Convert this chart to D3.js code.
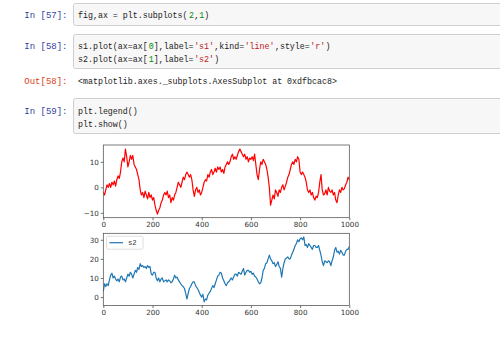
<!DOCTYPE html>
<html>
<head>
<meta charset="utf-8">
<script src="https://cdn.jsdelivr.net/npm/d3@7"></script>
<style>
  body { margin: 0; background: #fff; }
  text { font-family: "Liberation Mono", "DejaVu Sans Mono", monospace; }
  .tick text { font-family: "DejaVu Sans", sans-serif; }
</style>
</head>
<body>
<svg id="nb" width="500" height="337"></svg>
<script>
// series values, one every 5 steps of the index (0..1000)
const STEP = 5;
const s1 = [
  -2, -3, -1, 1, 0, 1.5, 0, 2, 1, 2.5, 0.5, 3, 4.5, 3.5, 6, 10, 11.5, 10, 15, 12,
  8, 10, 12.5, 11, 12.5, 9, 8, 7, 5, 3, -1, -3, -2, -4, -1.5, -3, -4.5, -2, -4, -3,
  -5, -4, -7, -9, -10.5, -9, -8, -6, -5, -3, -2, -3, -1.5, -4, -3, -6, -4, -5, -3, -2,
  0, 2, 1, 0, 2, 4, 3, 5, 6, 5, 4, 5, 3, -1, -3.5, -1, 0, -2, -1, -3,
  -2, 0, 2, 3, 2.5, 5, 4, 6, 7, 5, 6, 7.5, 6, 8, 7, 8, 6, 7, 5.5, 8,
  9, 10, 9, 10, 12, 13, 11, 12, 11, 12.5, 14, 15, 14, 13, 12, 13, 11, 12, 10, 11.5,
  11, 12, 10.5, 13, 9, 5, 3, 7, 10, 9, 11, 10, 9, 7, 4, 0, -7, -5, -3, -4.5,
  -1, -2, -3.5, -1, -2, 0, 1, -1, 0.5, 2, 4, 5, 7, 9, 10, 9, 11, 10, 12, 11,
  6, 5, 6, 5, 4, 2, -1, -2, -1, -3, -2, -4, -5, -3.5, -4, -2, 2, 5, -1, -3,
  -2.5, -1, -3, 0, -1.5, -2, -1, -3, -2, -5, -6, -3, -1, -2, 0, -1, -0.5, 1, 2, 4,
  3
];
const s2 = [
  3, 7, 5.5, 7, 6, 9, 11.5, 12.5, 10, 11, 9.5, 8.5, 9.5, 8, 10.5, 11, 9, 9.5, 8, 10,
  12, 11, 13, 12, 10, 12, 14, 13, 15.5, 14.5, 17.5, 16, 16.5, 15.5, 16, 15, 16.5, 15.5, 16, 12,
  11.5, 13, 13, 10, 8.5, 10, 8, 9.5, 10, 8, 8.5, 9, 8, 9, 8.5, 7.5, 8, 9.5, 11.5, 10,
  10.5, 9, 8, 7, 6, 5.5, 4.5, 2, -1, 2, 4.5, 5.5, 7, 8, 8, 6, 5, 4, 2.5, 1,
  0, 1.5, -2.5, -1, -1.5, 1, 2, 3, 4.5, 6, 5, 7, 9, 11, 11.5, 13, 12.5, 10, 8.5, 7,
  6, 7.5, 8, 9, 10, 9, 10.5, 12, 12, 11, 13, 12.5, 12, 13.5, 15, 11.5, 13, 14, 14, 13,
  13.5, 12, 12.5, 11, 10.5, 9.5, 8, 7, 7.5, 10, 14, 15, 17.5, 18, 20, 22, 20, 19, 17.5, 18,
  16, 17, 18.5, 16, 15, 10.5, 15, 18, 20, 20.5, 21, 20, 20, 22, 23.5, 25, 27, 28, 30, 29,
  30.5, 31, 30, 31.5, 27, 27.5, 26, 28, 27, 26, 25, 27, 27, 26, 26, 27, 24.5, 22, 18.5, 16.5,
  19, 18.5, 18, 19, 18.5, 16.5, 19, 21, 24.5, 26, 23.5, 24, 22.5, 24.5, 23.5, 22, 22, 24, 25, 25,
  26.5
];
const xTicks = [0, 200, 400, 600, 800, 1000];
const y1Ticks = [-10, 0, 10];
const y2Ticks = [0, 10, 20, 30];
const legendLabel = "s2";

// notebook cells: prompt + lines of tokens  (k = plain, n = number, s = string)
const cells = [
  { prompt: "In [57]:", lines: [[["fig,ax = plt.subplots(", "k"], ["2", "n"], [",", "k"], ["1", "n"], [")", "k"]]] },
  { prompt: "In [58]:", lines: [
      [["s1.plot(ax=ax[", "k"], ["0", "n"], ["],label=", "k"], ["'s1'", "s"], [",kind=", "k"], ["'line'", "s"], [",style=", "k"], ["'r'", "s"], [")", "k"]],
      [["s2.plot(ax=ax[", "k"], ["1", "n"], ["],label=", "k"], ["'s2'", "s"], [")", "k"]]
  ] },
  { prompt: "Out[58]:", out: true, lines: [[["<matplotlib.axes._subplots.AxesSubplot at 0xdfbcac8>", "k"]]] },
  { prompt: "In [59]:", lines: [[["plt.legend()", "k"]], [["plt.show()", "k"]]] }
];

const svg = d3.select("#nb");
const tokColor = { k: "#222", n: "#008800", s: "#ba2121" };
const charW = 5.05;

// cell boxes
const boxes = [[3, 25], [34, 68], null, [98, 133]];
const firstLine = [18, 48.5, 83.5, 113.5];
cells.forEach((c, i) => {
  if (boxes[i]) {
    svg.append("rect").attr("x", 73.5).attr("y", boxes[i][0] + 0.5)
      .attr("width", 440).attr("height", boxes[i][1] - boxes[i][0])
      .attr("fill", "#f7f7f7").attr("stroke", "#cfcfcf").attr("rx", 2);
  }
  svg.append("text").attr("x", 67.5).attr("y", firstLine[i])
    .attr("text-anchor", "end").attr("font-size", 9)
    .attr("fill", c.out ? "#d84315" : "#303f9f").text(c.prompt);
  c.lines.forEach((line, j) => {
    const t = svg.append("text").attr("y", firstLine[i] + j * 13.3).attr("font-size", 8.3);
    let pos = 0;
    line.forEach(([s, k]) => {
      t.append("tspan").attr("x", 78 + pos * charW).attr("fill", tokColor[k]).text(s);
      pos += s.length;
    });
  });
});

// the two subplots
const x = d3.scaleLinear().domain([0, 1000]).range([103.3, 349.3]);

function drawAxes(top, bottom, yDomain, yTicks, values, color) {
  const y = d3.scaleLinear().domain(yDomain).range([bottom, top]);
  const g = svg.append("g");
  g.append("rect").attr("x", x(0)).attr("y", top).attr("width", x(1000) - x(0))
    .attr("height", bottom - top).attr("fill", "#fff");

  g.append("defs").append("clipPath").attr("id", "clip" + top)
    .append("rect").attr("x", x(0)).attr("y", top).attr("width", x(1000) - x(0)).attr("height", bottom - top);

  const line = d3.line().x((d, i) => x(i * STEP)).y(d => y(d));
  g.append("path").datum(values).attr("d", line)
    .attr("clip-path", `url(#clip${top})`)
    .attr("fill", "none").attr("stroke", color).attr("stroke-width", 1.2)
    .attr("stroke-linejoin", "round");

  const xa = g.append("g").attr("transform", `translate(0,${bottom})`)
    .call(d3.axisBottom(x).tickValues(xTicks).tickSize(2.5).tickPadding(2).tickFormat(d => d));
  const ya = g.append("g").attr("transform", `translate(${x(0)},0)`)
    .call(d3.axisLeft(y).tickValues(yTicks).tickSize(2.5).tickPadding(2).tickFormat(d => d < 0 ? "\u2212" + (-d) : d));
  [xa, ya].forEach(a => {
    a.select(".domain").remove();
    a.selectAll(".tick line").attr("stroke", "#333").attr("stroke-width", 0.7);
    a.selectAll(".tick text").attr("font-size", 7.2).attr("fill", "#333");
  });

  g.append("rect").attr("x", x(0)).attr("y", top).attr("width", x(1000) - x(0))
    .attr("height", bottom - top).attr("fill", "none").attr("stroke", "#444").attr("stroke-width", 0.7);
  return g;
}

drawAxes(145, 217.7, [-11.9, 16.6], y1Ticks, s1, "#ff0000");
const g2 = drawAxes(233.3, 305.5, [-4.4, 33.4], y2Ticks, s2, "#1f77b4");

// legend on the lower subplot
const lg = g2.append("g");
lg.append("rect").attr("x", 106.5).attr("y", 236.2).attr("width", 36.5).attr("height", 13)
  .attr("rx", 1.5).attr("fill", "#fff").attr("fill-opacity", 0.8).attr("stroke", "#d0d0d0").attr("stroke-width", 0.7);
lg.append("line").attr("x1", 109.5).attr("x2", 123).attr("y1", 242.7).attr("y2", 242.7)
  .attr("stroke", "#1f77b4").attr("stroke-width", 1.2);
lg.append("text").attr("x", 128).attr("y", 245.3).attr("font-size", 7.2)
  .attr("font-family", "DejaVu Sans, sans-serif").attr("fill", "#333").text(legendLabel);
</script>
</body>
</html>
